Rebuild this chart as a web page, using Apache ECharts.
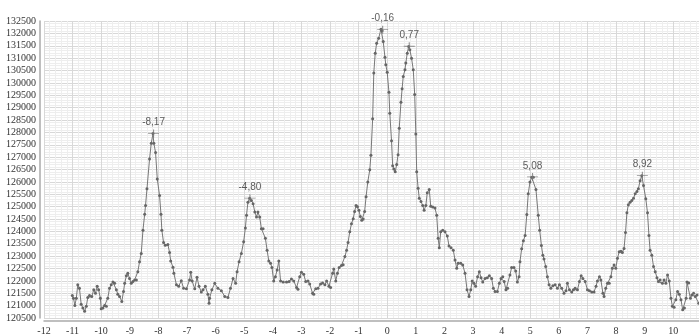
<!DOCTYPE html>
<html>
<head>
<meta charset="utf-8">
<script src="https://cdn.jsdelivr.net/npm/echarts@6/dist/echarts.min.js"></script>
<style>
  html, body { margin: 0; padding: 0; background: #fff; }
  #main { width: 699px; height: 336px; }
</style>
</head>
<body>
<div id="main"></div>
<script>
// x, y pairs
var baseLeft = [[-11.01,121410],[-10.97,121300],[-10.92,121010],[-10.87,121300],[-10.82,121840],[-10.76,121700],[-10.70,121060],[-10.64,120900],[-10.58,120770],[-10.52,120970],[-10.47,121330],[-10.41,121410],[-10.33,121370],[-10.26,121640],[-10.20,121500],[-10.14,121780],[-10.09,121640],[-10.03,121300],[-10.00,120870],[-9.94,120900],[-9.88,121010],[-9.82,120970],[-9.77,121300],[-9.71,121700],[-9.65,121840],[-9.59,121950],[-9.53,121900],[-9.47,121640],[-9.42,121460],[-9.36,121370],[-9.28,121170],[-9.22,121570],[-9.18,121900],[-9.12,122210],[-9.07,122310],[-9.01,122100],[-8.95,121900],[-8.89,121970],[-8.83,122040],[-8.77,122040],[-8.72,122370],[-8.66,122770],[-8.60,123110]];
var peakA = [[-8.54,124050],[-8.48,124690],[-8.45,125050],[-8.40,125720],[-8.31,126920],[-8.25,127560],[-8.19,127950],[-8.16,127560],[-8.10,127190],[-8.04,126120],[-7.96,125450],[-7.91,124690],[-7.88,124050],[-7.82,123550],[-7.76,123440],[-7.67,123470],[-7.61,123150],[-7.57,122800],[-7.49,122550],[-7.46,122310],[-7.37,121840],[-7.29,121780],[-7.20,122010],[-7.12,121700],[-7.02,121680],[-6.91,122040],[-6.87,122350],[-6.82,121990],[-6.73,121680],[-6.65,122150],[-6.58,121780],[-6.50,121550],[-6.44,121640],[-6.36,121780],[-6.27,121460],[-6.23,121100],[-6.21,121300],[-6.13,121640],[-6.03,121900],[-5.92,121700],[-5.80,121600],[-5.68,121370],[-5.57,121330],[-5.48,121700],[-5.39,122100],[-5.30,121900],[-5.25,122370],[-5.18,122770]];
var peakB = [[-5.10,123110],[-5.02,123580],[-4.96,124140],[-4.92,124650],[-4.87,125180],[-4.81,125340],[-4.75,125250],[-4.69,125120],[-4.63,124780],[-4.57,124580],[-4.52,124780],[-4.46,124580],[-4.40,124110],[-4.34,124110],[-4.26,123720],[-4.20,123240],[-4.14,122800],[-4.08,122710],[-4.03,122540],[-3.97,122000],[-3.91,122170],[-3.85,122440],[-3.79,122800],[-3.73,122000],[-3.64,121950],[-3.52,121950],[-3.43,121970],[-3.35,122080],[-3.27,122000],[-3.17,121730],[-3.12,121660],[-3.06,122170],[-3.00,122350],[-2.92,122270],[-2.85,121970],[-2.77,122000],[-2.71,121870],[-2.61,121500],[-2.57,121460],[-2.50,121680],[-2.42,121700],[-2.33,121870],[-2.26,121910],[-2.18,121840],[-2.12,122000],[-2.04,121780],[-1.98,121730],[-1.91,122310],[-1.87,122480],[-1.80,122000],[-1.74,122310],[-1.68,122540],[-1.60,122620],[-1.54,122650],[-1.48,122980],[-1.42,123240],[-1.37,123550],[-1.31,123980],[-1.25,124310],[-1.19,124510]];
var peakC = [[-1.14,124800],[-1.09,125050],[-1.04,125000],[-0.99,124850],[-0.94,124600],[-0.89,124450],[-0.84,124500],[-0.79,124800],[-0.74,125400],[-0.68,126000],[-0.61,126490],[-0.57,127080],[-0.51,128550],[-0.47,130400],[-0.42,131200],[-0.37,131600],[-0.30,131800],[-0.22,132170],[-0.18,132110],[-0.14,131670],[-0.08,131040],[-0.05,130730],[0.00,130430],[0.06,129620],[0.09,128770],[0.15,127660],[0.19,126650],[0.23,126520],[0.28,126410],[0.33,126700],[0.38,127100],[0.42,128170],[0.48,129220],[0.52,129760],[0.56,130260],[0.62,130530],[0.65,130800],[0.70,131200],[0.75,131470],[0.79,131340],[0.85,131000],[0.91,130530],[0.96,129530],[1.00,127930],[1.03,126410],[1.08,125740],[1.12,125340],[1.18,125210],[1.24,125050],[1.29,124850],[1.35,125050],[1.40,125560],[1.47,125690],[1.52,125020],[1.59,124980],[1.67,124940],[1.73,124650],[1.78,123720],[1.82,123340],[1.87,123980],[1.94,124050],[2.02,123980],[2.10,123810],[2.16,123410],[2.23,123340],[2.31,123240],[2.37,122840],[2.43,122510],[2.48,122710],[2.57,122710],[2.64,122640],[2.72,122310],[2.79,121640],[2.86,121370]];
var peakD = [[2.92,121640],[2.97,122000],[3.03,121900],[3.09,121780],[3.16,122170],[3.22,122370],[3.28,122130],[3.34,121950],[3.42,122100],[3.50,122130],[3.57,122210],[3.65,122100],[3.71,121700],[3.77,121570],[3.85,121570],[3.92,121900],[3.98,122100],[4.04,122170],[4.09,121970],[4.15,121640],[4.21,121700],[4.29,122240],[4.35,122540],[4.43,122540],[4.49,122400],[4.55,121950],[4.61,122170],[4.64,122770],[4.70,123300],[4.76,123620],[4.82,123830],[4.88,124680],[4.93,125520],[4.99,125990],[5.05,126190],[5.11,126190],[5.20,125690],[5.28,124650],[5.33,124050],[5.39,123430],[5.44,123040],[5.48,122880],[5.54,122580],[5.60,122170],[5.66,121840],[5.72,121700],[5.79,121800],[5.87,121840],[5.95,121700],[6.02,121840],[6.10,121700],[6.18,121500],[6.25,121600],[6.30,121900],[6.37,121640],[6.45,121550],[6.51,121640],[6.57,121700],[6.65,121640],[6.72,121970],[6.78,122210],[6.84,122100],[6.92,121970],[7.00,121640],[7.07,121600],[7.15,121550],[7.23,121550],[7.30,121780],[7.35,122000],[7.42,122170],[7.47,122040],[7.54,121500],[7.58,121370],[7.64,121700],[7.70,121900],[7.76,121900],[7.82,122170],[7.87,122510],[7.93,122640],[7.99,122510],[8.05,122910],[8.11,123180],[8.17,123200],[8.22,123150],[8.28,123310]];
var peakE = [[8.33,123950],[8.38,124750],[8.43,125080],[8.49,125180],[8.55,125250],[8.61,125340],[8.67,125520],[8.73,125610],[8.78,125720],[8.84,126050],[8.90,126250],[8.96,125850],[9.04,125320],[9.10,124750],[9.15,123830],[9.19,123240],[9.25,123040],[9.31,122580],[9.37,122370],[9.43,122130],[9.48,121970],[9.54,122040],[9.62,121900],[9.68,122040],[9.74,121900],[9.80,122240],[9.86,122000],[9.92,121300],[9.97,120970],[10.03,120930],[10.09,121240],[10.15,121570],[10.21,121460],[10.27,121240],[10.33,120830],[10.39,120900],[10.45,121300],[10.48,121950],[10.54,121910],[10.60,121300],[10.65,121430],[10.71,121500],[10.77,121370],[10.83,121430],[10.89,121100]];

// peak markers with their labels
var peaks = [[-8.17,127950,'-8,17'],[-4.80,125340,'-4,80'],[-0.16,132150,'-0,16'],[0.77,131480,'0,77'],[5.08,126200,'5,08'],[8.92,126250,'8,92']];

var trace = baseLeft.concat(peakA, peakB, peakC, peakD, peakE);

var chart = echarts.init(document.getElementById('main'), null, {renderer: 'canvas'});

var axisFont = {fontFamily: '"Liberation Serif", "DejaVu Serif", serif', fontSize: 10, color: '#333'};

var option = {
    backgroundColor: '#fff',
    animation: false,
    grid: {left: 44, right: 0, top: 21, bottom: 16},
    xAxis: {
        type: 'value',
        min: -12,
        max: 10.9,
        interval: 1,
        offset: 3,
        axisLine: {onZero: false, lineStyle: {color: '#aaa', width: 1.5}},
        axisTick: {show: false},
        axisLabel: Object.assign({margin: 5, showMaxLabel: false, formatter: function (v) { return String(v); }}, axisFont),
        splitLine: {lineStyle: {color: '#d8d8d8', width: 1}},
        minorTick: {show: false, splitNumber: 5},
        minorSplitLine: {show: true, lineStyle: {color: '#eeeeee', width: 1}}
    },
    yAxis: {
        type: 'value',
        min: 120500,
        max: 132500,
        interval: 500,
        offset: 4,
        axisLine: {show: true, onZero: false, lineStyle: {color: '#aaa', width: 1.5}},
        axisTick: {show: false},
        axisLabel: Object.assign({margin: 4, formatter: function (v) { return String(v); }}, axisFont),
        splitLine: {lineStyle: {color: '#d8d8d8', width: 1}},
        minorTick: {show: false, splitNumber: 5},
        minorSplitLine: {show: true, lineStyle: {color: '#eeeeee', width: 1}}
    },
    series: [
        {
            type: 'line',
            data: trace,
            symbol: 'circle',
            symbolSize: 3,
            showSymbol: true,
            lineStyle: {color: '#777', width: 1},
            itemStyle: {color: '#666'},
            silent: true
        },
        {
            type: 'scatter',
            data: peaks.map(function (p) { return {value: [p[0], p[1]], name: p[2]}; }),
            symbol: 'path://M0,4.5h10v1h-10z M4.5,0h1v10h-1z',
            symbolSize: [11, 8],
            itemStyle: {color: '#777'},
            label: {
                show: true,
                position: 'top',
                distance: 2,
                formatter: '{b}',
                fontFamily: '"Liberation Sans", Arial, sans-serif',
                fontSize: 10,
                color: '#333'
            },
            silent: true,
            z: 5
        }
    ]
};

chart.setOption(option);
</script>
</body>
</html>
